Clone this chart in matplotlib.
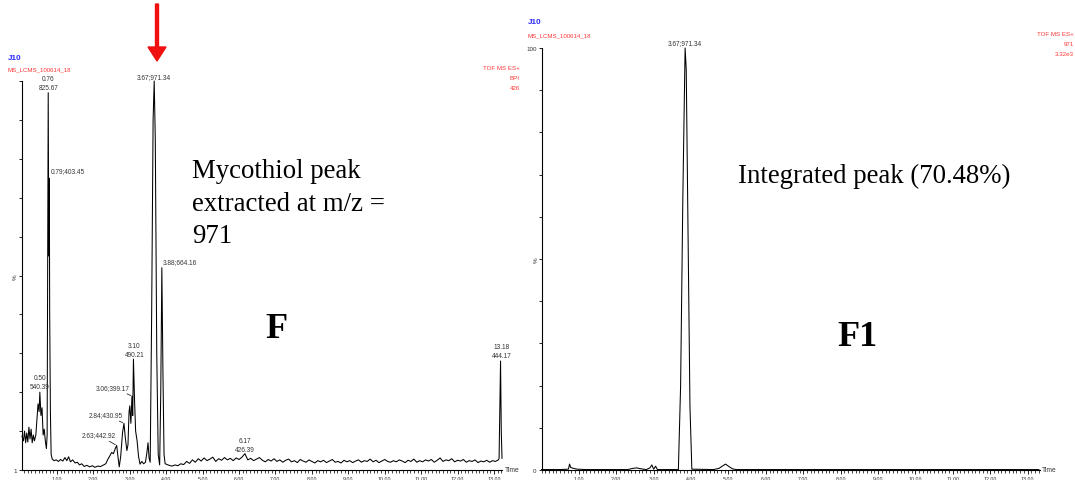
import numpy as np
import matplotlib
matplotlib.use('Agg')
import matplotlib.pyplot as plt
from matplotlib.ticker import MultipleLocator, FixedLocator
from matplotlib.patches import FancyArrow
from matplotlib.transforms import IdentityTransform

# ---- data ----
# left: BPI chromatogram, % of max
left_time = [0.04, 0.08, 0.11, 0.14, 0.17, 0.20, 0.23, 0.26, 0.29, 0.32, 0.35, 0.38,
             0.42, 0.45, 0.48, 0.51, 0.53, 0.56, 0.59, 0.62, 0.65, 0.68, 0.71, 0.73,
             0.745, 0.76, 0.775, 0.79, 0.80, 0.82, 0.84, 0.87, 0.92, 0.98, 1.04, 1.10,
             1.16, 1.22, 1.27, 1.32, 1.37, 1.43, 1.50, 1.56, 1.62, 1.68, 1.75, 1.82,
             1.90, 1.97, 2.04, 2.12, 2.20, 2.28, 2.34, 2.40, 2.45, 2.50, 2.55, 2.60,
             2.64, 2.68, 2.71, 2.75, 2.80, 2.84, 2.88, 2.92, 2.95, 2.98, 3.00, 3.03,
             3.06, 3.08, 3.10, 3.13, 3.16, 3.20, 3.24, 3.28, 3.33, 3.38, 3.43, 3.47,
             3.50, 3.53, 3.56, 3.60, 3.64, 3.67, 3.70, 3.74, 3.78, 3.82, 3.85, 3.88,
             3.91, 3.94, 3.97]
left_pct = [8.7, 7.5, 10, 7, 9.5, 7.2, 11, 8, 10.5, 7, 9, 7.5,
            9, 13, 17, 15, 20, 14, 16, 9, 10.5, 7.5, 5.5, 9,
            50, 97, 55, 75, 40, 15, 4, 2.8, 2.4, 2.6, 2.2, 2.7,
            2.3, 3.2, 2.4, 3.4, 2.1, 2.6, 1.8, 2.0, 1.3, 1.6, 0.9, 1.2,
            0.8, 1.1, 0.7, 1.0, 0.9, 1.3, 1.6, 2.8, 3.6, 4.5, 4.2, 5.5,
            6.3, 3.0, 0.8, 3.5, 9.5, 12, 8, 5.0, 6.5, 15, 16.5, 12,
            19, 14, 28.5, 18, 10, 7.5, 3.5, 1.5, 2.2, 1.6, 2.0, 4.5,
            7, 3.0, 2.0, 40, 90, 100, 85, 30, 4, 1.3, 20, 52,
            25, 4, 1.6]
# baseline after 4 min, read every 0.08 min from 4.00 to 13.12
noise_pct = [1.5, 1.2, 1.0, 1.3, 1.1, 1.6, 1.4, 2.2, 1.7, 2.6, 2.0, 2.9, 2.3,
             3.1, 2.4, 2.8, 3.3, 2.2, 2.9, 2.5, 3.2, 2.6, 3.0, 2.4, 3.1, 2.7, 3.3,
             4.2,
             2.6, 3.0, 2.4, 2.8, 3.2, 2.5, 2.1, 2.7, 2.3, 2.9, 2.2, 2.6, 2.0,
             2.5, 2.8, 2.1, 2.4, 1.9, 2.7, 2.3, 2.0, 2.6, 2.2, 1.8, 2.4,
             2.1, 2.5, 1.9, 2.3, 2.7, 2.0, 2.2, 1.8, 2.5, 2.1, 2.4, 1.9,
             2.3, 2.6, 2.0, 2.4, 2.2, 2.8, 2.1, 2.5, 1.9, 2.3, 2.7, 2.2,
             2.0, 2.4, 2.1, 2.6, 2.3, 1.9, 2.5, 2.2, 2.8, 2.0, 2.4, 2.1,
             2.6, 2.3, 2.7, 2.0, 2.5, 3.1, 2.2, 2.6, 2.4, 2.9, 2.1, 2.5,
             2.3, 2.7, 2.0, 2.4, 2.2, 2.6, 1.9, 2.3, 2.1, 2.5, 2.0, 2.4, 2.2, 2.6]
noise_time = np.linspace(4.00, 13.12, len(noise_pct))
end_time = [13.14, 13.16, 13.18, 13.20, 13.22]
end_pct = [3.0, 15, 28, 10, 3]

# right: extracted m/z 971 trace
right_time = [0.0, 0.5, 0.72, 0.75, 0.78, 0.85, 0.95, 1.2, 2.3, 2.45, 2.55, 2.65,
              2.8, 2.9, 2.95, 3.0, 3.05, 3.1, 3.66, 3.72, 3.78, 3.84, 3.87, 3.92,
              3.97, 4.02, 4.6, 4.75, 4.85, 4.92, 5.0, 5.1, 5.2, 13.3]
right_pct = [0.1, 0.1, 0.2, 1.4, 0.6, 0.4, 0.2, 0.1, 0.1, 0.4, 0.5, 0.3,
             0.1, 0.5, 1.2, 0.2, 0.9, 0.1, 0.1, 20, 65, 100, 95, 55,
             15, 0.2, 0.1, 0.4, 1.0, 1.4, 0.9, 0.3, 0.1, 0.1]

# peak labels: (time, %, text)
left_peaks = [(0.76, 97, '0.76\n825.67'), (3.67, 100, '3.67;971.34'),
              (0.79, 75, '0.79;403.45'), (3.88, 52, '3.88;664.16'),
              (3.10, 28.5, '3.10\n490.21'), (3.06, 19, '3.06;399.17'),
              (2.84, 12, '2.84;430.95'), (2.64, 6.3, '2.63;442.92'),
              (0.53, 20, '0.50\n540.39'), (6.16, 4.2, '6.17\n426.39'),
              (13.18, 28, '13.18\n444.17')]
right_peaks = [(3.84, 100, '3.67;971.34')]

# ---- drawing ----
W, H = 1075, 481
fig = plt.figure(figsize=(W / 100, H / 100), dpi=100)
sans = 'Liberation Sans'
serif = 'Liberation Serif'
red = '#ff3535'
blue = '#2b2bff'
grey = '#333333'


def fx(px):
    return px / W


def fy(py):
    return 1 - py / H


def style_axes(ax, xmax, ylabels):
    for s in ['top', 'right']:
        ax.spines[s].set_visible(False)
    for s in ['left', 'bottom']:
        ax.spines[s].set_linewidth(0.8)
    ax.set_xlim(0.04 if xmax < 13.25 else 0, xmax)
    ax.set_ylim(0, 100)
    ax.xaxis.set_major_locator(FixedLocator(range(1, 14)))
    ax.set_xticklabels(['%.2f' % v for v in range(1, 14)])
    ax.xaxis.set_minor_locator(MultipleLocator(0.1))
    ax.set_yticks(range(0, 101, 10))
    ax.set_yticklabels(ylabels)
    ax.tick_params(axis='x', which='major', length=3, width=0.6, pad=1.5,
                   labelsize=3.8, labelcolor=grey)
    ax.tick_params(axis='x', which='minor', length=2.2, width=0.5)
    ax.tick_params(axis='y', length=2.5, width=0.6, pad=1, labelsize=4.5,
                   labelcolor=grey)
    for lab in ax.get_xticklabels() + ax.get_yticklabels():
        lab.set_family(sans)
    ax.patch.set_visible(False)


axL = fig.add_axes([fx(22), fy(471), (502 - 22) / W, (471 - 82) / H])
axR = fig.add_axes([fx(541.5), fy(471), (1040 - 541.5) / W, (471 - 49) / H])

style_axes(axL, 13.22, ['1'] + [''] * 10)
style_axes(axR, 13.33, ['0'] + [''] * 9 + ['100'])

lt = list(left_time) + list(noise_time) + end_time
lp = list(left_pct) + noise_pct + end_pct
axL.plot(lt, lp, color='black', lw=0.75, clip_on=False)
axR.plot(right_time, right_pct, color='black', lw=0.75, clip_on=False)

# peak label offsets in pixels (dx, dy, ha, leader)
left_offsets = [(0, 2, 'center', False), (0, 1, 'center', False),
                (1, 4, 'left', False), (1, 3, 'left', False),
                (1, 1, 'center', False), (-2, 5, 'right', True),
                (-1, 5, 'right', True), (-1, 7, 'right', True),
                (0, 2, 'center', False), (0, 1, 'center', False),
                (1, 2, 'center', False)]
for (t, p, txt), (dx, dy, ha, lead) in zip(left_peaks, left_offsets):
    ap = dict(arrowstyle='-', lw=0.5, color='black', shrinkA=0, shrinkB=1) if lead else None
    axL.annotate(txt, xy=(t, p), xytext=(dx, dy), textcoords='offset pixels',
                 ha=ha, va='bottom', fontsize=4.7, family=sans, color=grey,
                 linespacing=1.35, arrowprops=ap, annotation_clip=False)
for t, p, txt in right_peaks:
    axR.annotate(txt, xy=(t, p), xytext=(0, 2), textcoords='offset pixels',
                 ha='center', va='bottom', fontsize=4.7, family=sans, color=grey,
                 annotation_clip=False)

# axis captions
fig.text(fx(15), fy(277), '%', rotation=90, fontsize=4.5, family=sans,
         color=grey, ha='center', va='center')
fig.text(fx(536), fy(260), '%', rotation=90, fontsize=4.5, family=sans,
         color=grey, ha='center', va='center')
fig.text(fx(505), fy(471), 'Time', fontsize=4.8, family=sans, color=grey,
         va='center')
fig.text(fx(1042), fy(471), 'Time', fontsize=4.8, family=sans, color=grey,
         va='center')

# run headers
hdr = dict(fontsize=4.4, color=red, family=sans, va='center')
fig.text(fx(8), fy(58), 'J10', fontsize=5.8, weight='bold', color=blue,
         family=sans, va='center')
fig.text(fx(8), fy(70), 'MS_LCMS_100614_18', **hdr)
fig.text(fx(528), fy(23), 'J10', fontsize=5.8, weight='bold', color=blue,
         family=sans, va='center')
fig.text(fx(528), fy(36), 'MS_LCMS_100614_18', **hdr)
fig.text(fx(520), fy(69), 'TOF MS ES+', ha='right', **hdr)
fig.text(fx(520), fy(79), 'BPI', ha='right', **hdr)
fig.text(fx(520), fy(88), '426', ha='right', **hdr)
fig.text(fx(1074), fy(35), 'TOF MS ES+', ha='right', **hdr)
fig.text(fx(1074), fy(45), '971', ha='right', **hdr)
fig.text(fx(1074), fy(55), '3.32e3', ha='right', **hdr)

# annotations
fig.text(fx(192), fy(159), 'Mycothiol peak\nextracted at m/z =\n971',
         fontsize=19.3, family=serif, va='top', linespacing=1.4)
fig.text(fx(738), fy(176), 'Integrated peak (70.48%)', fontsize=19.3,
         family=serif, va='center')
fig.text(fx(276), fy(330), 'F', fontsize=26, family=serif, weight='bold',
         ha='center', va='center')
fig.text(fx(857), fy(338), 'F1', fontsize=26, family=serif, weight='bold',
         ha='center', va='center')

fig.add_artist(FancyArrow(157, H - 5, 0, -57, width=3, head_width=18,
                          head_length=14, length_includes_head=True,
                          color='#f01010', transform=IdentityTransform()))

fig.savefig('out.png', dpi=100)
